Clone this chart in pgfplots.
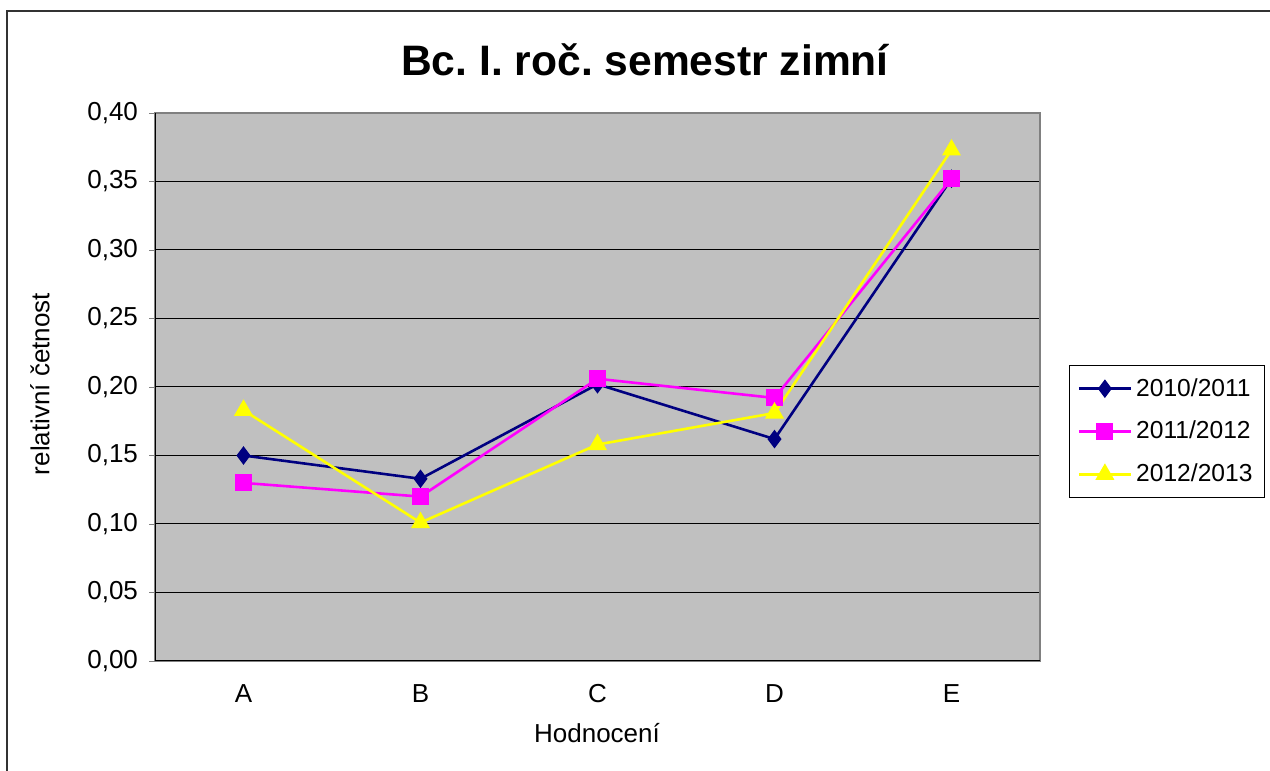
\documentclass[border=0pt]{standalone}
\usepackage{pgfplots}
\pgfplotsset{compat=1.18}
\usepackage{fontspec}
\setmainfont{Liberation Sans}
\frenchspacing
\definecolor{navyc}{RGB}{0,0,128}
\definecolor{magc}{RGB}{255,0,255}
\definecolor{yelc}{RGB}{255,255,0}
\definecolor{bgc}{RGB}{192,192,192}
\begin{document}
\begin{tikzpicture}
\path[use as bounding box] (0,0) rectangle (635pt,385.5pt);
\draw[black!80, line width=0.6pt] (3.5pt,0) -- (3.5pt,380pt) -- (635pt,380pt);
\node[font=\fontsize{21.3}{25}\selectfont\bfseries] at (322.5pt,355.5pt) {Bc. I. roč. semestr zimní};
\node[font=\fontsize{13}{15}\selectfont, rotate=90] at (20pt,193.5pt) {relativní četnost};
\node[font=\fontsize{13}{15}\selectfont] at (298.5pt,19pt) {Hodnocení};
\begin{axis}[
  at={(77.5pt,55pt)}, anchor=south west,
  scale only axis, width=442.5pt, height=274pt,
  xmin=-0.5, xmax=4.5, ymin=0, ymax=0.40,
  xtick={0,1,2,3,4}, xticklabels={A,B,C,D,E},
  ytick={0,0.05,...,0.401},
  ytick pos=left,
  major x tick style={draw=none},
  tick align=outside, major tick length=3pt,
  ymajorgrids, grid style={black, line width=0.5pt},
  axis background/.style={fill=bgc},
  axis line style={draw=gray, line width=1pt},
  tick label style={font=\fontsize{13}{15}\selectfont},
  /pgf/number format/fixed, /pgf/number format/fixed zerofill,
  /pgf/number format/precision=2, /pgf/number format/use comma,
  /pgf/number format/assume math mode=true,
  xticklabel style={yshift=-4.5pt, text height=9.5pt, text depth=0pt},
  yticklabel style={xshift=-2pt},
  legend style={at={(1,0.4188)}, anchor=west, xshift=14.5pt, draw=black, line width=0.6pt,
    font=\fontsize{12.3}{14}\selectfont, inner xsep=4pt, inner ysep=4.5pt, row sep=7pt},
  legend cell align=left,
  legend image code/.code={\draw[mark repeat=2,mark phase=2] plot coordinates {(0pt,0pt) (13pt,0pt) (26pt,0pt)};},
]
\addplot[navyc, line width=1.3pt, mark=diamond*, mark size=3.6pt, mark options={solid, fill=navyc}]
  coordinates {(0,0.150) (1,0.133) (2,0.202) (3,0.162) (4,0.352)};
\addplot[magc, line width=1.3pt, mark=square*, mark size=3.6pt, mark options={solid, fill=magc}]
  coordinates {(0,0.130) (1,0.120) (2,0.206) (3,0.192) (4,0.352)};
\addplot[yelc, line width=1.3pt, mark=triangle*, mark size=4.2pt, mark options={solid, fill=yelc}]
  coordinates {(0,0.183) (1,0.101) (2,0.158) (3,0.181) (4,0.373)};
\legend{2010/2011,2011/2012,2012/2013}
\draw[black, line width=0.8pt] (rel axis cs:0,1) -- (rel axis cs:0,0) -- (rel axis cs:1,0);
\end{axis}
\end{tikzpicture}
\end{document}
